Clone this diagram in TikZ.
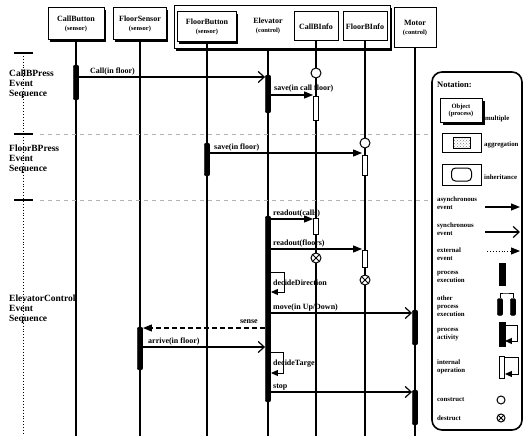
\documentclass[tikz,border=0pt]{standalone}
\usepackage{fontspec}
\setmainfont{Liberation Serif}
\usetikzlibrary{arrows.meta,shadows,patterns}
\newcommand\myfs[2]{\fontsize{#1}{#2}\selectfont}
\tikzset{
 obj/.style={draw,line width=1pt,fill=white,align=center,inner sep=0pt,font=\bfseries\myfs{8}{8.5}},
 objsh/.style={obj,drop shadow={shadow xshift=1.6pt,shadow yshift=-1.6pt,fill=black,opacity=1}},
 life/.style={line width=1.3pt},
 actbar/.style={fill=black,draw=black,minimum width=5.5pt,inner sep=0pt,rounded corners=2pt},
 hbar/.style={draw,fill=white,line width=0.9pt,minimum width=5pt,inner sep=0pt},
 cons/.style={circle,draw,fill=white,line width=1pt,minimum size=10pt,inner sep=0pt},
 dest/.style={cons,path picture={\draw[line width=0.9pt] (path picture bounding box.south west) -- (path picture bounding box.north east) (path picture bounding box.north west) -- (path picture bounding box.south east);}},
 async/.style={line width=1.2pt,-{Triangle[length=9pt,width=7pt]}},
 sync/.style={line width=1.2pt,-{Straight Barb[length=6pt,width=11pt,line width=1.2pt]}},
 loopar/.style={line width=1pt,-{Triangle[length=7pt,width=6pt]}},
 lbl/.style={font=\bfseries\myfs{8}{8},inner sep=0pt,anchor=base west},
 seq/.style={font=\bfseries\myfs{9.5}{10},align=left,anchor=north west,inner sep=0pt},
 legt/.style={font=\bfseries\myfs{6.8}{8},align=left,anchor=west,inner sep=0pt},
 sep/.style={gray!60,line width=0.6pt,dash pattern=on 4pt off 4pt},
}
\begin{document}
\begin{tikzpicture}[x=1pt,y=-1pt]
\useasboundingbox (0,0) rectangle (525,436);
\coordinate (bot) at (0,436);

% ---------- object heads ----------
\node[objsh,minimum width=216pt,minimum height=43pt] (elev) at (282,27.5) {};
\node[objsh,minimum width=56pt,minimum height=32pt] (cb) at (76,24) {CallButton\\{\myfs{6.5}{7}(sensor)}};
\node[objsh,minimum width=53pt,minimum height=32pt] (fs) at (140,24) {FloorSensor\\{\myfs{6.5}{7}(sensor)}};
\node[objsh,minimum width=59pt,minimum height=30pt] (fb) at (207,27) {FloorButton\\{\myfs{6.5}{7}(sensor)}};
\node[font=\bfseries\myfs{8}{8.5},align=center,inner sep=0pt] (el) at (268,26) {Elevator\\{\myfs{6.5}{7}(control)}};
\node[obj,minimum width=44pt,minimum height=29pt] (ci) at (316,26.5) {CallBInfo};
\node[obj,minimum width=44pt,minimum height=29pt] (fi) at (365,26.5) {FloorBInfo};
\node[obj,minimum width=42pt,minimum height=40pt] (mo) at (415,28) {Motor\\{\myfs{6.5}{7}(control)}};

% ---------- lifelines ----------
\draw[life] (cb.south) -- (cb |- bot);
\draw[life] (fs.south) -- (fs |- bot);
\draw[life] (fb.south) -- (fb |- bot);
\draw[life] (elev.south -| el) -- (el |- bot);
\draw[life] (ci.south) -- (ci |- bot);
\draw[life] (fi.south) -- (fi |- bot);
\draw[life] (mo.south) -- (mo |- bot);

% ---------- sequence separators ----------
\draw[dotted,line width=0.9pt] (23,53) -- (23,436);
\draw[line width=1.3pt] (14,53) -- (33,53) (14,134) -- (33,134) (14,200) -- (33,200);
\draw[sep] (40,134) -- (428,134);
\draw[sep] (40,200) -- (428,200);
\node[seq] (s1) at (9,70) {CallBPress\\Event\\Sequence};
\node[seq] (s2) at (9,145) {FloorBPress\\Event\\Sequence};
\node[seq] (s3) at (9,295) {ElevatorControl\\Event\\Sequence};

% ---------- activations ----------
\node[actbar,minimum height=35pt] (cbb) at (76,82.5) {};
\node[actbar,minimum height=38pt] (elb1) at (268,94) {};
\node[actbar,minimum height=33pt] (fbb) at (207,159.5) {};
\node[actbar,minimum height=186pt] (elb2) at (268,309) {};
\node[actbar,minimum height=43pt] (fsb) at (140,348.5) {};
\node[actbar,minimum height=35pt] (mob1) at (415,327.5) {};
\node[actbar,minimum height=35pt] (mob2) at (415,407.5) {};
\node[hbar,minimum height=24pt] (cih1) at (316,108) {};
\node[hbar,minimum height=20pt] (fih1) at (365,165) {};
\node[hbar,minimum height=16pt] (cih2) at (316,226) {};
\node[hbar,minimum height=17pt] (fih2) at (365,258.5) {};
\node[cons] (cic) at (316,73) {};
\node[cons] (fic) at (365,143) {};
\node[dest] (cid) at (316,258) {};
\node[dest] (fid) at (365,280) {};

% ---------- messages ----------
\draw[sync] (cbb.east |- 0,77) -- (elb1.west |- 0,77);
\node[lbl] (m1) at (90,74) {Call(in floor)};
\draw[async] (elb1.east |- 0,95) -- (cih1.west |- 0,95);
\node[lbl] (m2) at (274,91) {save(in call floor)};
\draw[async] (fbb.east |- 0,153) -- (fih1.west |- 0,153);
\node[lbl] (m3) at (214,149) {save(in floor)};
\draw[async] (elb2.east |- 0,219) -- (cih2.west |- 0,219);
\node[lbl] (m4) at (273,215) {readout(calls)};
\draw[async] (elb2.east |- 0,249) -- (fih2.west |- 0,249);
\node[lbl] (m5) at (273,245) {readout(floors)};
\draw[loopar] (elb2.east |- 0,272) -| (284,292) -- (elb2.east |- 0,292);
\node[lbl] (m6) at (273,285) {decideDirection};
\draw[sync] (elb2.east |- 0,313) -- (mob1.west |- 0,313);
\node[lbl] (m7) at (273,309) {move(in Up/Down)};
\draw[line width=1.2pt,dash pattern=on 5pt off 3pt,-{Triangle[length=9pt,width=7pt]}] (elb2.west |- 0,328) -- (fsb.east |- 0,328);
\node[lbl,anchor=base east] (m8) at (258,323) {sense};
\draw[sync] (fsb.east |- 0,347) -- (elb2.west |- 0,347);
\node[lbl] (m9) at (148,343) {arrive(in floor)};
\draw[loopar] (elb2.east |- 0,352) -| (283,373) -- (elb2.east |- 0,373);
\node[lbl] (m10) at (273,365) {decideTarget};
\draw[sync] (elb2.east |- 0,392) -- (mob2.west |- 0,392);
\node[lbl] (m11) at (273,388) {stop};

% ---------- notation ----------
\node[draw,line width=1.6pt,rounded corners=10pt,minimum width=90pt,minimum height=358pt,inner sep=0pt] (nota) at (477,251) {};
\node[font=\bfseries\myfs{8.5}{9},anchor=west,inner sep=0pt] (nt) at (437,85) {Notation:};
\node[obj,minimum width=42pt,minimum height=24pt,font=\bfseries\myfs{6.5}{7},drop shadow={shadow xshift=3pt,shadow yshift=-3pt,fill=black,opacity=1}] (lobj) at (461,110) {Object\\(process)};
\node[legt] (lmul) at (485,119) {multiple};
\node[obj,minimum width=39pt,minimum height=19pt] (lagg) at (461.5,142.5) {};
\node[draw,line width=0.6pt,pattern=crosshatch dots,pattern color=gray,minimum width=17pt,minimum height=11pt,inner sep=0pt] (laggi) at (lagg) {};
\node[legt] (lagt) at (484,145) {aggregation};
\node[obj,minimum width=39pt,minimum height=21pt] (linh) at (461.5,174.5) {};
\node[draw,line width=1pt,rounded corners=4pt,minimum width=20pt,minimum height=13pt,inner sep=0pt] (linhi) at (linh) {};
\node[legt] (linht) at (484,177) {inheritance};

\node[legt] (la) at (437,203.5) {asynchronous\\event};
\coordinate (la1) at (485,207); \coordinate (la2) at (520,207);
\draw[async] (la1) -- (la2);
\node[legt] (ls) at (437,229) {synchronous\\event};
\coordinate (ls1) at (485,232); \coordinate (ls2) at (520,232);
\draw[sync] (ls1) -- (ls2);
\node[legt] (le) at (437,254) {external\\event};
\coordinate (le1) at (487,251); \coordinate (le2) at (520,251);
\draw[line width=0.9pt,dotted,-{Triangle[length=9pt,width=7pt]}] (le1) -- (le2);
\node[legt] (lp) at (437,277) {process\\execution};
\node[actbar,minimum height=22pt,rounded corners=0pt] (lpb) at (502,274) {};
\node[legt] (lo) at (437,306) {other\\process\\execution};
\node[actbar,minimum height=17pt] (lob1) at (500,307) {};
\node[actbar,minimum height=17pt] (lob2) at (513,307) {};
\draw[line width=0.6pt] (lob1.north) |- (505,293) -| (lob2.north);
\node[legt] (lpa) at (437,335) {process\\activity};
\node[actbar,minimum height=24pt,rounded corners=0pt] (lpab) at (502,334) {};
\draw[loopar] (lpab.east |- 0,325) -| (517,341) -- (lpab.east |- 0,341);
\node[legt] (lio) at (437,367) {internal\\operation};
\node[hbar,minimum height=22pt] (liob) at (502,367) {};
\draw[loopar] (liob.east |- 0,357) -| (518,374) -- (liob.east |- 0,374);
\node[legt] (lc) at (437,400) {construct};
\node[cons,minimum size=8pt] (lcc) at (501,400) {};
\node[legt] (ld) at (437,418) {destruct};
\node[dest,minimum size=8pt] (ldd) at (501,418) {};
\end{tikzpicture}
\end{document}
